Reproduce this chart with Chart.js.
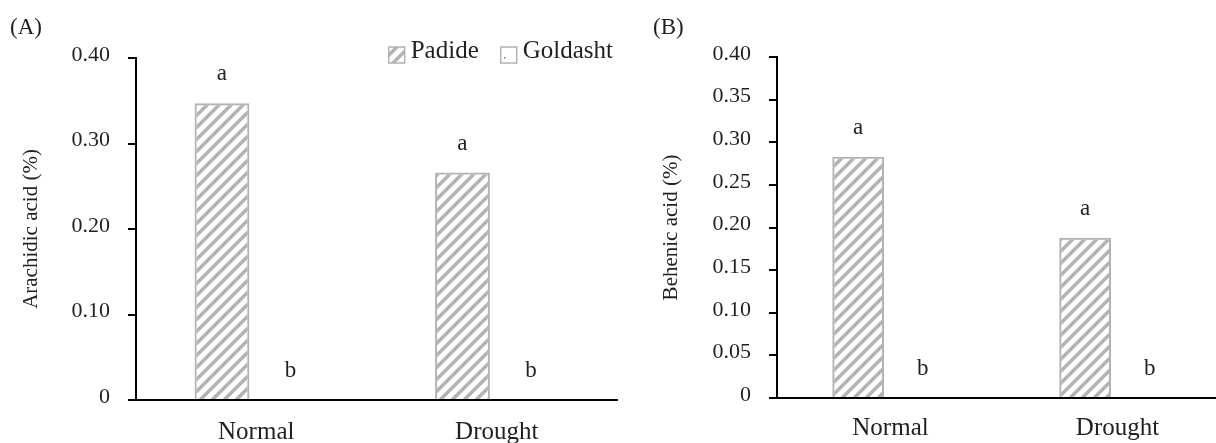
<!DOCTYPE html>
<html>
<head>
<meta charset="utf-8">
<script src="https://cdn.jsdelivr.net/npm/chart.js@4.4.1/dist/chart.umd.min.js"></script>
<style>
  html, body { margin: 0; padding: 0; background: #fff; overflow: hidden; width: 1216px; height: 443px; }
  #chartA { position: absolute; left: 0; top: 0; }
  #chartB { position: absolute; left: 640px; top: 0; }
</style>
</head>
<body>
<canvas id="chartA" width="625" height="443"></canvas>
<canvas id="chartB" width="596" height="443"></canvas>
<script>
// ============================================================
// Data
// ============================================================

const CATEGORIES = ['Normal', 'Drought']
const SERIES = ['Padide', 'Goldasht']

const ARACHIDIC_PADIDE = [0.347, 0.266]
const ARACHIDIC_GOLDASHT = [0, 0]
const ARACHIDIC_LETTERS = [['a', 'a'], ['b', 'b']]
const ARACHIDIC_TICKS = ['0', '0.10', '0.20', '0.30', '0.40']

const BEHENIC_PADIDE = [0.283, 0.188]
const BEHENIC_GOLDASHT = [0, 0]
const BEHENIC_LETTERS = [['a', 'a'], ['b', 'b']]
const BEHENIC_TICKS = ['0', '0.05', '0.10', '0.15', '0.20', '0.25', '0.30', '0.35', '0.40']

// ============================================================
// Style
// ============================================================

const TEXT_COLOR = '#231f20'
const BAR_GREY = '#b3b3b3'
const SERIF = "'Liberation Serif', 'Times New Roman', serif"

Chart.defaults.font.family = SERIF
Chart.defaults.color = TEXT_COLOR

function makeHatch() {
  const c = document.createElement('canvas')
  c.width = 12
  c.height = 12
  const g = c.getContext('2d')
  g.strokeStyle = BAR_GREY
  g.lineWidth = 3.5
  g.beginPath()
  g.moveTo(-3, 15); g.lineTo(15, -3)
  g.moveTo(-9, 9); g.lineTo(9, -9)
  g.moveTo(3, 21); g.lineTo(21, 3)
  g.stroke()
  return g.createPattern(c, 'repeat')
}

function makeDots() {
  const c = document.createElement('canvas')
  c.width = 16
  c.height = 16
  const g = c.getContext('2d')
  g.fillStyle = '#fff'
  g.fillRect(0, 0, 16, 16)
  g.fillStyle = '#777'
  g.fillRect(8, 9, 1.5, 1.5)
  return g.createPattern(c, 'repeat')
}

const hatch = makeHatch()
const dots = makeDots()

// ============================================================
// Plugins: significance letters + small legend
// ============================================================

const lettersPlugin = {
  id: 'letters',
  afterDatasetsDraw(chart, args, opts) {
    const { ctx } = chart
    ctx.save()
    ctx.font = `23px ${SERIF}`
    ctx.fillStyle = TEXT_COLOR
    ctx.textAlign = 'center'
    ctx.textBaseline = 'alphabetic'
    opts.letters.forEach((row, di) => {
      chart.getDatasetMeta(di).data.forEach((bar, i) => {
        ctx.fillText(row[i], bar.x, bar.y - 23)
      })
    })
    ctx.restore()
  }
}

const cornerLegend = {
  id: 'cornerLegend',
  afterDraw(chart, args, opts) {
    if (!opts.show) return
    const { ctx, chartArea } = chart
    ctx.save()
    ctx.font = `25px ${SERIF}`
    ctx.textBaseline = 'alphabetic'
    ctx.textAlign = 'left'
    const base = chartArea.top
    let right = chartArea.right - 4
    const sets = chart.data.datasets
    for (let i = sets.length - 1; i >= 0; i--) {
      const w = ctx.measureText(sets[i].label).width
      const textX = right - w
      ctx.fillStyle = TEXT_COLOR
      ctx.fillText(sets[i].label, textX, base)
      const boxX = textX - 6 - 16
      ctx.fillStyle = sets[i].backgroundColor
      ctx.fillRect(boxX, base - 11, 16, 16)
      ctx.strokeStyle = BAR_GREY
      ctx.lineWidth = 1.5
      ctx.strokeRect(boxX, base - 11, 16, 16)
      right = boxX - 22
    }
    ctx.restore()
  }
}

// ============================================================
// Chart builder
// ============================================================

function renderPanel(canvasId, cfg) {
  const ctx = document.getElementById(canvasId)
  return new Chart(ctx, {
    type: 'bar',
    data: {
      labels: CATEGORIES,
      datasets: [
        {
          label: SERIES[0],
          data: cfg.padide,
          backgroundColor: hatch,
          borderColor: BAR_GREY,
          borderWidth: 2,
          categoryPercentage: 0.57,
          barPercentage: 0.8
        },
        {
          label: SERIES[1],
          data: cfg.goldasht,
          backgroundColor: dots,
          borderColor: BAR_GREY,
          borderWidth: 2,
          categoryPercentage: 0.57,
          barPercentage: 0.8
        }
      ]
    },
    plugins: [lettersPlugin, cornerLegend],
    options: {
      responsive: false,
      animation: false,
      layout: { padding: { left: cfg.padLeft, top: 14, right: cfg.padRight, bottom: 0 } },
      plugins: {
        legend: { display: false },
        tooltip: { enabled: false },
        title: {
          display: true,
          text: cfg.panel,
          align: 'start',
          color: TEXT_COLOR,
          font: { size: 23, weight: 'normal', family: SERIF },
          lineHeight: 1.2,
          padding: { top: 0, bottom: cfg.titleGap }
        },
        letters: { letters: cfg.letters },
        cornerLegend: { show: cfg.legend }
      },
      scales: {
        x: {
          afterFit: s => { s.height = cfg.xHeight },
          border: { display: true, color: '#000', width: 2 },
          grid: { display: false, drawTicks: false },
          ticks: { color: TEXT_COLOR, padding: cfg.xPad, font: { size: 25, family: SERIF } }
        },
        y: {
          min: 0,
          max: 0.4,
          afterFit: s => { s.width = cfg.yWidth },
          border: { display: true, color: '#000', width: 2 },
          grid: { drawOnChartArea: false, drawTicks: true, tickLength: 8, color: '#000', lineWidth: 2 },
          ticks: {
            stepSize: cfg.step,
            padding: 18,
            labelOffset: -3,
            color: TEXT_COLOR,
            font: { size: 22, family: SERIF },
            callback: (v, i) => cfg.ticks[i]
          },
          title: {
            display: true,
            text: cfg.yTitle,
            color: TEXT_COLOR,
            font: { size: 21, family: SERIF },
            padding: { top: cfg.titlePad, bottom: 0 }
          }
        }
      }
    }
  })
}

renderPanel('chartA', {
  panel: '(A)',
  padide: ARACHIDIC_PADIDE,
  goldasht: ARACHIDIC_GOLDASHT,
  letters: ARACHIDIC_LETTERS,
  ticks: ARACHIDIC_TICKS,
  step: 0.1,
  yTitle: 'Arachidic acid (%)',
  legend: true,
  padLeft: 10,
  padRight: 8,
  yWidth: 126,
  xHeight: 43,
  xPad: 17,
  titleGap: 16.4,
  titlePad: 9
})

renderPanel('chartB', {
  panel: '(B)',
  padide: BEHENIC_PADIDE,
  goldasht: BEHENIC_GOLDASHT,
  letters: BEHENIC_LETTERS,
  ticks: BEHENIC_TICKS,
  step: 0.05,
  yTitle: 'Behenic acid (%)',
  legend: false,
  padLeft: 13,
  padRight: 5,
  yWidth: 124,
  xHeight: 45,
  xPad: 15,
  titleGap: 15.4,
  titlePad: 6
})
</script>
</body>
</html>
